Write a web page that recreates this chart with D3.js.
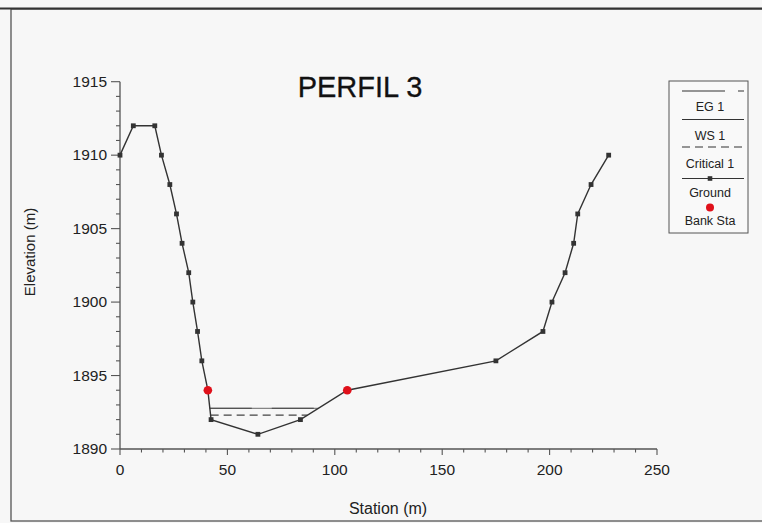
<!DOCTYPE html>
<html>
<head>
<meta charset="utf-8">
<script src="https://cdn.jsdelivr.net/npm/d3@7"></script>
<style>
  body { margin: 0; background: #f7f7f7; }
  svg { display: block; font-family: "Liberation Sans", Arial, sans-serif; }
</style>
</head>
<body>
<div id="chart"></div>
<script>
// Ground profile (station m, elevation m)
const groundStation = [0, 6.2, 16.2, 19.3, 23.2, 26.3, 28.9, 32, 33.9, 36.1, 38.1, 40.9, 42.4,
    64.2, 84, 105.8, 175, 196.9, 201.1, 207.2, 211.2, 213.1, 219.3, 227.5];
const groundElev = [1910, 1912, 1912, 1910, 1908, 1906, 1904, 1902, 1900, 1898, 1896, 1894, 1892,
    1891, 1892, 1894, 1896, 1898, 1900, 1902, 1904, 1906, 1908, 1910];

// Bank stations
const bankStation = [40.9, 105.8];
const bankElev = [1894, 1894];

// Water levels (left station, right station, elevation)
const egLine = [41.8, 92.5, 1892.77];
const wsLine = [41.8, 92.5, 1892.77];
const critLine = [42.2, 87.3, 1892.3];

const xTicks = [0, 50, 100, 150, 200, 250];
const yTicks = [1890, 1895, 1900, 1905, 1910, 1915];
const legendLabels = ["EG 1", "WS 1", "Critical 1", "Ground", "Bank Sta"];

const width = 762;
const height = 523;

const svg = d3.select("#chart")
    .append("svg")
    .attr("width", width)
    .attr("height", height);

svg.append("rect")
    .attr("width", width).attr("height", height)
    .attr("fill", "#f7f7f7");

// outer frame
svg.append("rect")
    .attr("x", 11).attr("y", 9)
    .attr("width", 770).attr("height", 512)
    .attr("fill", "none")
    .attr("stroke", "#555")
    .attr("stroke-width", 1.3);
svg.append("line")
    .attr("x1", 0).attr("x2", width).attr("y1", 8.5).attr("y2", 8.5)
    .attr("stroke", "#333").attr("stroke-width", 2);

const x = d3.scaleLinear().domain([0, 250]).range([120, 657]);
const y = d3.scaleLinear().domain([1890, 1915]).range([449, 81.7]);

const axisColor = "#555";

// x axis
svg.append("line")
    .attr("x1", x(0)).attr("x2", x(250))
    .attr("y1", y(1890)).attr("y2", y(1890))
    .attr("stroke", axisColor).attr("stroke-width", 1.3);

svg.selectAll(".xminor")
    .data(d3.range(0, 251, 10))
    .enter().append("line")
    .attr("x1", d => x(d)).attr("x2", d => x(d))
    .attr("y1", y(1890))
    .attr("y2", d => y(1890) + (d % 50 === 0 ? 6 : 3.5))
    .attr("stroke", axisColor).attr("stroke-width", 1.1);

svg.selectAll(".xlabel")
    .data(xTicks)
    .enter().append("text")
    .attr("x", d => x(d))
    .attr("y", 475)
    .attr("text-anchor", "middle")
    .attr("font-size", 15.5)
    .attr("fill", "#222")
    .text(d => d);

// y axis
svg.append("line")
    .attr("x1", x(0)).attr("x2", x(0))
    .attr("y1", y(1890)).attr("y2", y(1915))
    .attr("stroke", axisColor).attr("stroke-width", 1.3);

svg.selectAll(".yminor")
    .data(d3.range(1890, 1916, 1))
    .enter().append("line")
    .attr("y1", d => y(d)).attr("y2", d => y(d))
    .attr("x1", x(0))
    .attr("x2", d => x(0) - (d % 5 === 0 ? 9 : 4))
    .attr("stroke", axisColor).attr("stroke-width", 1.1);

svg.selectAll(".ylabel")
    .data(yTicks)
    .enter().append("text")
    .attr("x", 107)
    .attr("y", d => y(d) + 5)
    .attr("text-anchor", "end")
    .attr("font-size", 15.5)
    .attr("fill", "#222")
    .text(d => d);

// axis titles
svg.append("text")
    .attr("x", 388).attr("y", 514)
    .attr("text-anchor", "middle")
    .attr("font-size", 16)
    .attr("fill", "#222")
    .text("Station (m)");

svg.append("text")
    .attr("transform", "translate(35,252) rotate(-90)")
    .attr("text-anchor", "middle")
    .attr("font-size", 15)
    .attr("fill", "#222")
    .text("Elevation (m)");

// title
svg.append("text")
    .attr("x", 360).attr("y", 97)
    .attr("text-anchor", "middle")
    .attr("font-size", 29)
    .attr("fill", "#111")
    .attr("stroke", "#111")
    .attr("stroke-width", 0.3)
    .text("PERFIL 3");

// water lines
function waterLine(d, dash, w) {
    svg.append("line")
        .attr("x1", x(d[0])).attr("x2", x(d[1]))
        .attr("y1", y(d[2])).attr("y2", y(d[2]))
        .attr("stroke", "#444")
        .attr("stroke-width", w)
        .attr("stroke-dasharray", dash);
}
waterLine(wsLine, null, 0.8);
waterLine(egLine, "42,20", 1.1);
waterLine(critLine, "8,5", 1.3);

// ground line
const groundData = groundStation.map((s, i) => ({ s: s, e: groundElev[i] }));

const line = d3.line()
    .x(d => x(d.s))
    .y(d => y(d.e));

svg.append("path")
    .datum(groundData)
    .attr("d", line)
    .attr("fill", "none")
    .attr("stroke", "#333")
    .attr("stroke-width", 1.4);

svg.selectAll(".gmark")
    .data(groundData)
    .enter().append("rect")
    .attr("x", d => x(d.s) - 2.4)
    .attr("y", d => y(d.e) - 2.4)
    .attr("width", 4.8).attr("height", 4.8)
    .attr("fill", "#333");

// bank stations
svg.selectAll(".bank")
    .data(bankStation)
    .enter().append("circle")
    .attr("cx", d => x(d))
    .attr("cy", (d, i) => y(bankElev[i]))
    .attr("r", 4.3)
    .attr("fill", "#e0101a");

// legend
const lg = svg.append("g").attr("transform", "translate(669,81)");
lg.append("rect")
    .attr("width", 79).attr("height", 152)
    .attr("fill", "#f9f9f9")
    .attr("stroke", "#555").attr("stroke-width", 1);

const lx1 = 13, lx2 = 75, lcx = 41;

lg.append("line").attr("x1", lx1).attr("x2", lx2).attr("y1", 10).attr("y2", 10)
    .attr("stroke", "#333").attr("stroke-width", 1.1).attr("stroke-dasharray", "43,13");
lg.append("line").attr("x1", lx1).attr("x2", lx2).attr("y1", 38.5).attr("y2", 38.5)
    .attr("stroke", "#333").attr("stroke-width", 1.1);
lg.append("line").attr("x1", lx1).attr("x2", lx2).attr("y1", 66).attr("y2", 66)
    .attr("stroke", "#333").attr("stroke-width", 1.1).attr("stroke-dasharray", "8,5");
lg.append("line").attr("x1", lx1).attr("x2", lx2).attr("y1", 97.5).attr("y2", 97.5)
    .attr("stroke", "#333").attr("stroke-width", 1.1);
lg.append("rect").attr("x", lcx - 2.3).attr("y", 95.2).attr("width", 4.6).attr("height", 4.6)
    .attr("fill", "#333");
lg.append("circle").attr("cx", lcx).attr("cy", 126.5).attr("r", 4)
    .attr("fill", "#e0101a");

const labelY = [30, 58.5, 87, 115.5, 143.5];
lg.selectAll(".ltext")
    .data(legendLabels)
    .enter().append("text")
    .attr("x", lcx)
    .attr("y", (d, i) => labelY[i])
    .attr("text-anchor", "middle")
    .attr("font-size", 12.5)
    .attr("fill", "#222")
    .text(d => d);
</script>
</body>
</html>
